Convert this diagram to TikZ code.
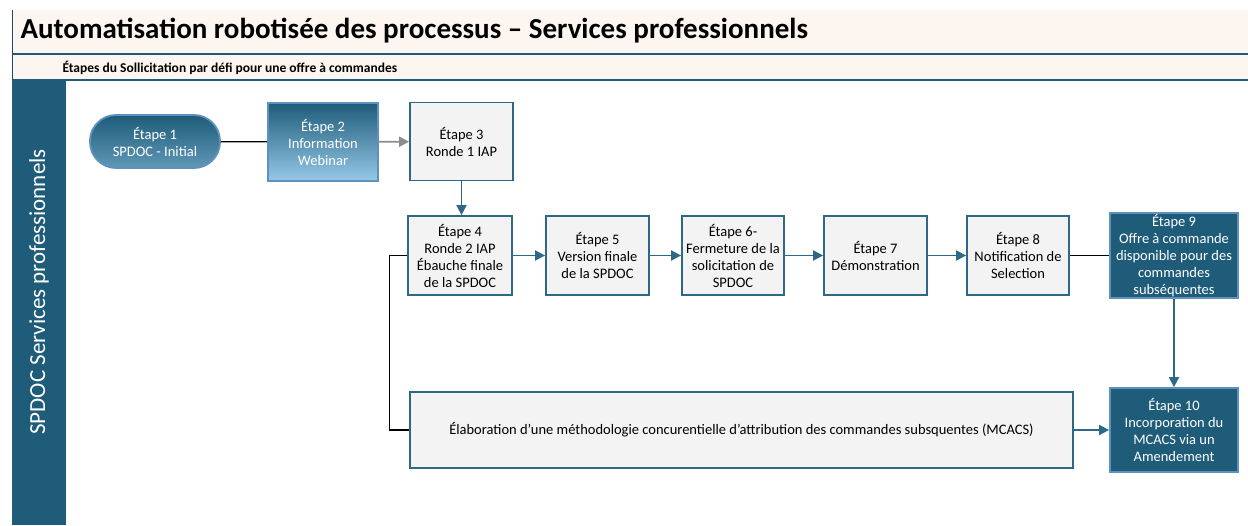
\documentclass[tikz,border=0pt]{standalone}
\usepackage{fontspec}
\setmainfont{Carlito}
\usetikzlibrary{arrows.meta, positioning}
\definecolor{lanebleu}{RGB}{30,92,122}
\definecolor{bordbleu}{RGB}{45,105,135}
\definecolor{bordclair}{RGB}{95,145,190}
\definecolor{bleuclair}{RGB}{150,200,232}
\definecolor{grisclair}{RGB}{243,243,243}
\definecolor{fondtitre}{RGB}{253,246,240}
\definecolor{flechegris}{RGB}{140,140,140}

\begin{document}
\begin{tikzpicture}[x=1pt, y=-1pt]
\tikzset{
  etape/.style={draw=bordbleu, fill=grisclair, line width=1.8pt, minimum width=103pt, minimum height=79pt,
    inner sep=0pt, align=center, font=\fontsize{14.5}{17}\selectfont},
  etapefonce/.style={etape, draw=bordclair, fill=lanebleu, text=white},
  degrade/.style={etapefonce, top color=lanebleu, middle color=lanebleu, bottom color=#1},
  degrade/.default=bleuclair,
  fleche/.style={line width=1.8pt, draw=bordbleu, -{Triangle[length=10pt, width=10pt]}},
  lien/.style={line width=1.2pt, draw=black}
}
\useasboundingbox (0,0) rectangle (1248,525);

\fill[fondtitre] (12,10) rectangle (1248,80);
\draw[lanebleu, line width=1.5pt] (12,54) -- (1248,54);
\draw[lanebleu, line width=2.5pt] (12,80) -- (1248,80);
\draw[lanebleu!80!black, line width=1.5pt] (12.5,10) -- (12.5,80);
\fill[lanebleu] (12,80) rectangle (66,525);

\node[anchor=west, font=\bfseries\fontsize{29}{34}\selectfont] (titre) at (17,31)
  {Automatisation robotisée des processus – Services professionnels};
\node[anchor=west, font=\bfseries\fontsize{13.5}{16}\selectfont] (soustitre) at (59,68)
  {Étapes du Sollicitation par défi pour une offre à commandes};
\node[rotate=90, text=white, font=\fontsize{23}{27}\selectfont] (couloir) at (39,292)
  {SPDOC Services professionnels};

\coordinate (C1) at (155,141.5);
\coordinate (C2) at (323,142);
\coordinate (C3) at (461.5,141.5);
\coordinate (C4) at (460,255.5);
\coordinate (C5) at (597.5,255.5);
\coordinate (C6) at (733,255.5);
\coordinate (C7) at (875.5,255.5);
\coordinate (C8) at (1018,255.5);
\coordinate (C9) at (1174,255.5);
\coordinate (C10) at (1174,430);
\coordinate (CM) at (741.5,430);

\node[degrade=lanebleu!45!bleuclair, rounded corners=26pt, minimum width=130pt, minimum height=53pt] (e1) at (C1)
  {Étape 1\\SPDOC - Initial};
\node[degrade, minimum width=110pt, minimum height=78pt] (e2) at (C2)
  {Étape 2\\Information\\Webinar};
\node[etape, minimum height=78pt] (e3) at (C3) {Étape 3\\Ronde 1 IAP};
\node[etape, minimum width=104pt] (e4) at (C4) {Étape 4\\Ronde 2 IAP\\Ébauche finale\\de la SPDOC};
\node[etape] (e5) at (C5) {Étape 5\\Version finale\\de la SPDOC};
\node[etape, minimum width=102pt] (e6) at (C6) {Étape 6-\\Fermeture de la\\solicitation de\\SPDOC};
\node[etape] (e7) at (C7) {Étape 7\\Démonstration};
\node[etape, minimum width=102pt] (e8) at (C8) {Étape 8\\Notification de\\Selection};
\node[etapefonce, minimum width=128pt, minimum height=85pt] (e9) at (C9)
  {Étape 9\\Offre à commande\\disponible pour des\\commandes\\subséquentes};
\node[etapefonce, minimum width=128pt, minimum height=84pt] (e10) at (C10)
  {Étape 10\\Incorporation du\\MCACS via un\\Amendement};
\node[etape, minimum width=663pt, minimum height=76pt] (mcacs) at (CM)
  {Élaboration d’une méthodologie concurentielle d’attribution des commandes subsquentes (MCACS)};

\draw[lien] (e1) -- (e2);
\draw[fleche, draw=flechegris] (e2) -- (e3);
\draw[fleche] (e3.south) -- (e3.south |- e4.north);
\draw[fleche] (e4) -- (e5);
\draw[fleche] (e5) -- (e6);
\draw[fleche] (e6) -- (e7);
\draw[fleche] (e7) -- (e8);
\draw[lien] (e8) -- (e9);
\draw[fleche] (e9) -- (e10);
\draw[fleche] (mcacs) -- (e10);
\draw[lien] (e4.west) -- ++(-18,0) |- (mcacs.west);
\end{tikzpicture}
\end{document}
